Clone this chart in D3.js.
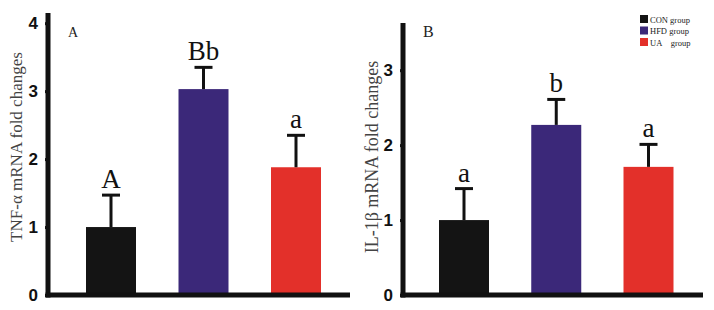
<!DOCTYPE html>
<html>
<head>
<meta charset="utf-8">
<script src="https://cdn.jsdelivr.net/npm/d3@7"></script>
<style>
  body { margin: 0; background: #fff; }
  svg { display: block; }
</style>
</head>
<body>
<div id="chart"></div>
<script>
var groups = ["CON group", "HFD group", "UA group"];
var legendText = ["CON group", "HFD group", "UA\u2003group"];
var colors = ["#141414", "#3b2879", "#e3302a"];

var tnfValues = [1.0, 3.03, 1.88];
var tnfErrors = [0.47, 0.32, 0.47];
var tnfLetters = ["A", "Bb", "a"];
var tnfTicks = [0, 1, 2, 3, 4];

var ilValues = [1.0, 2.27, 1.71];
var ilErrors = [0.42, 0.34, 0.3];
var ilLetters = ["a", "b", "a"];
var ilTicks = [0, 1, 2, 3];

var svg = d3.select("#chart").append("svg")
  .attr("width", 714)
  .attr("height", 310);

function panel(opt) {
  var g = svg.append("g");
  var y = d3.scaleLinear().domain([0, opt.yMax]).range([295, opt.yTop]);
  var x = d3.scalePoint().domain(groups).range(opt.xCenters);
  var bw = 50;

  // bars
  g.selectAll("rect.bar")
    .data(opt.values)
    .enter()
      .append("rect")
      .attr("class", "bar")
      .attr("x", function(d, i) { return x(groups[i]) - bw / 2; })
      .attr("y", function(d) { return y(d); })
      .attr("width", bw)
      .attr("height", function(d) { return y(0) - y(d); })
      .attr("fill", function(d, i) { return colors[i]; });

  // error bars
  g.selectAll("line.err")
    .data(opt.values)
    .enter()
      .append("line")
      .attr("x1", function(d, i) { return x(groups[i]); })
      .attr("x2", function(d, i) { return x(groups[i]); })
      .attr("y1", function(d) { return y(d); })
      .attr("y2", function(d, i) { return y(d + opt.errors[i]); })
      .attr("stroke", "#111")
      .attr("stroke-width", 3);

  g.selectAll("line.cap")
    .data(opt.values)
    .enter()
      .append("line")
      .attr("x1", function(d, i) { return x(groups[i]) - 9; })
      .attr("x2", function(d, i) { return x(groups[i]) + 9; })
      .attr("y1", function(d, i) { return y(d + opt.errors[i]); })
      .attr("y2", function(d, i) { return y(d + opt.errors[i]); })
      .attr("stroke", "#111")
      .attr("stroke-width", 3);

  // significance letters
  g.selectAll("text.sig")
    .data(opt.letters)
    .enter()
      .append("text")
      .attr("x", function(d, i) { return x(groups[i]); })
      .attr("y", function(d, i) { return y(opt.values[i] + opt.errors[i]) - 7; })
      .attr("text-anchor", "middle")
      .attr("font-family", "Liberation Serif, serif")
      .attr("font-size", "27px")
      .attr("fill", "#111")
      .text(function(d) { return d; });

  // y axis
  var axis = g.append("g")
    .attr("transform", "translate(" + opt.axisX + ",0)")
    .call(d3.axisLeft(y).tickValues(opt.ticks).tickSize(3).tickPadding(7).tickFormat(d3.format("d")));
  axis.select(".domain").remove();
  axis.selectAll(".tick line").attr("stroke", "#111").attr("stroke-width", 3);
  axis.selectAll(".tick text")
    .attr("font-family", "Liberation Sans, Arial, sans-serif")
    .attr("font-weight", "bold")
    .attr("font-size", "17px")
    .attr("fill", "#111");

  g.append("line")
    .attr("x1", opt.axisX).attr("x2", opt.axisX)
    .attr("y1", y(opt.yMax)).attr("y2", y(0) + 2.5)
    .attr("stroke", "#111").attr("stroke-width", 5);
  g.append("line")
    .attr("x1", opt.axisX - 2.5).attr("x2", opt.xEnd)
    .attr("y1", y(0)).attr("y2", y(0))
    .attr("stroke", "#111").attr("stroke-width", 5);

  // axis title
  g.append("text")
    .attr("transform", "translate(" + opt.titleX + "," + opt.titleY + ") rotate(-90)")
    .attr("text-anchor", "middle")
    .attr("font-family", "Liberation Serif, serif")
    .attr("font-size", opt.titleSize)
    .attr("fill", "#444")
    .text(opt.title);

  // panel letter
  g.append("text")
    .attr("x", opt.axisX + 20)
    .attr("y", 37)
    .attr("font-family", "Liberation Serif, serif")
    .attr("font-size", opt.letterSize)
    .attr("fill", "#222")
    .text(opt.panel);
}

panel({
  values: tnfValues, errors: tnfErrors, letters: tnfLetters, ticks: tnfTicks,
  yMax: 4.15, yTop: 13, xCenters: [111, 296], axisX: 48, xEnd: 350,
  title: "TNF-\u03b1 mRNA fold changes", titleX: 22, titleY: 147, titleSize: "17px",
  panel: "A", letterSize: "14px"
});

panel({
  values: ilValues, errors: ilErrors, letters: ilLetters, ticks: ilTicks,
  yMax: 3.63, yTop: 23, xCenters: [464, 648.5], axisX: 403, xEnd: 703,
  title: "IL-1\u03b2 mRNA fold changes", titleX: 378, titleY: 157, titleSize: "18px",
  panel: "B", letterSize: "16px"
});

// legend
var legend = svg.append("g").attr("transform", "translate(640,15)");
legend.selectAll("rect")
  .data(groups)
  .enter()
    .append("rect")
    .attr("x", 0)
    .attr("y", function(d, i) { return i * 11.5; })
    .attr("width", 8)
    .attr("height", 8)
    .attr("fill", function(d, i) { return colors[i]; });
legend.selectAll("text")
  .data(legendText)
  .enter()
    .append("text")
    .attr("x", 10)
    .attr("y", function(d, i) { return i * 11.5 + 7.5; })
    .attr("font-family", "Liberation Serif, serif")
    .attr("font-size", "8.5px")
    .attr("fill", "#222")
    .text(function(d) { return d; });
</script>
</body>
</html>
